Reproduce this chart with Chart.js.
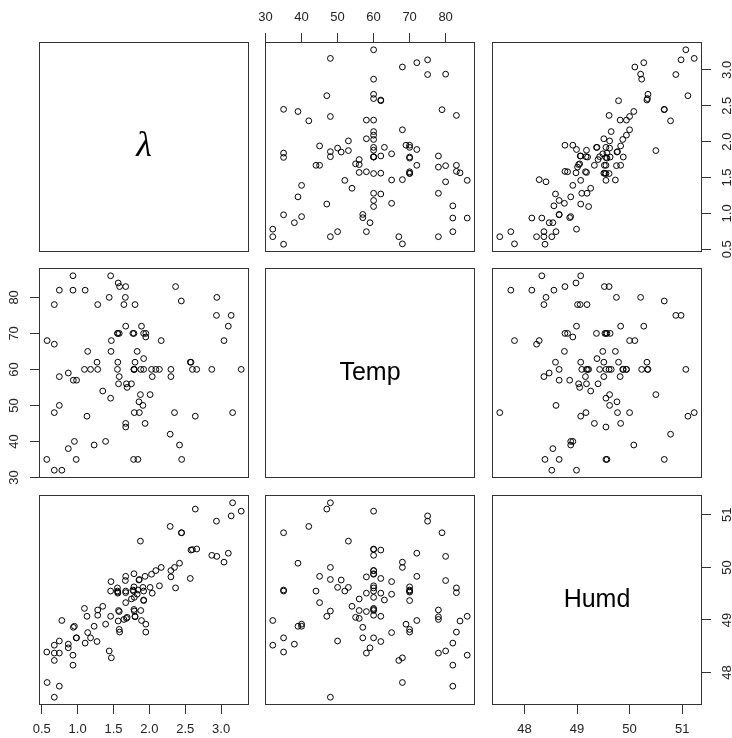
<!DOCTYPE html>
<html>
<head>
<meta charset="utf-8">
<script src="https://cdn.jsdelivr.net/npm/chart.js@4.4.0/dist/chart.umd.min.js"></script>
<style>
html, body { margin: 0; padding: 0; background: #fff; overflow: hidden; }
#wrap { position: relative; width: 732px; height: 738px; overflow: hidden; }
#wrap canvas { position: absolute; }
</style>
</head>
<body>
<div id="wrap"></div>
<script>
// variable names shown on the diagonal
const varNames = ['λ', 'Temp', 'Humd'];

// one entry per observation
const lambda = [3.16, 2.64, 2.45, 2.42, 2.29, 2.35, 2.30, 2.01, 2.04, 1.84, 1.78, 1.94, 1.86, 1.79, 1.91, 1.855, 1.875, 1.67, 1.67, 1.75,
  1.69, 1.68, 1.57, 1.58, 1.39, 1.23, 1.46, 1.35, 1.13, 0.98, 0.87, 0.955, 0.985, 0.94, 0.87, 0.78, 0.675, 0.57, 0.675, 0.745,
  0.745, 3.28, 3.04, 3.10, 3.14, 2.935, 2.94, 2.87, 2.66, 2.60, 2.58, 2.57, 2.445, 2.365, 2.30, 2.165, 2.14, 2.09, 2.03, 1.92,
  1.88, 1.785, 1.80, 1.92, 1.83, 1.95, 1.95, 1.89, 1.77, 1.80, 1.555, 1.56, 1.465, 1.47, 1.56, 1.555, 1.67, 1.645, 1.665, 1.67,
  1.585, 1.565, 1.46, 1.44, 1.28, 1.27, 1.18, 1.095, 1.14, 1.28, 1.105, 0.935, 0.935, 0.745, 0.675, 0.575, 0.675, 1.58, 1.785, 1.79,
  1.785, 1.92];
const temp = [48, 47, 35, 39, 42, 48, 58, 53, 58, 35, 35, 45, 48, 48, 50, 51, 53, 44, 45, 56,
  55, 56, 56, 58, 40, 39, 52, 54, 47, 35, 38, 40, 57, 57, 59, 32, 32, 35, 48, 50,
  58, 60, 68, 72, 75, 75, 80, 60, 60, 60, 62, 62, 79, 83, 60, 68, 60, 60, 60, 60,
  60, 60, 62, 63, 65, 69, 70, 72, 70, 78, 60, 62, 65, 68, 70, 70, 72, 78, 80, 83,
  83, 84, 86, 80, 60, 62, 60, 60, 65, 78, 82, 82, 86, 82, 67, 68, 78, 70, 70, 60,
  60, 70];
const humd = [51.23, 51.11, 50.66, 50.08, 50.78, 50.00, 49.82, 49.62, 49.51, 49.57, 49.55, 49.83, 49.77, 49.17, 49.62, 49.76, 50.50, 49.55, 49.33, 49.40,
  49.05, 49.03, 49.18, 49.16, 48.92, 48.88, 49.55, 49.26, 49.07, 48.66, 48.54, 48.88, 48.66, 48.86, 48.47, 48.99, 48.52, 48.39, 47.53, 48.60,
  48.37, 51.07, 50.10, 50.27, 50.98, 50.88, 50.21, 50.23, 50.35, 50.34, 50.33, 49.79, 50.66, 49.61, 49.94, 50.00, 49.65, 49.94, 49.87, 49.55,
  49.18, 49.20, 49.07, 49.38, 49.49, 48.92, 48.77, 48.99, 49.57, 49.06, 49.61, 49.51, 49.73, 48.28, 49.53, 49.55, 49.83, 49.01, 49.75, 49.52,
  48.77, 48.98, 49.07, 48.41, 49.09, 48.59, 48.66, 49.22, 48.76, 49.19, 48.56, 48.14, 48.33, 47.74, 48.23, 47.81, 48.37, 48.82, 49.63, 49.43,
  49.88, 49.37];

const lambdaTicks = [0.5, 1.0, 1.5, 2.0, 2.5, 3.0];
const tempTicks = [30, 40, 50, 60, 70, 80];
const humdTicks = [48, 49, 50, 51];

const vars = [lambda, temp, humd];
const tickSets = [lambdaTicks, tempTicks, humdTicks];
const fmt = [v => v.toFixed(1), v => String(v), v => String(v)];

const boxLeft = [39, 265, 492];
const boxTop = [42, 268, 495];
const BOX = 210;   // panel size
const M = 40;      // margin around each panel inside its canvas
const tickFont = { family: 'Liberation Sans, Arial, sans-serif', size: 13 };
const ink = '#222';

// R style range: data range stretched 4% each side
function range(arr) {
    const lo = Math.min(...arr), hi = Math.max(...arr), pad = (hi - lo) * 0.04;
    return [lo - pad, hi + pad];
}

function panelPlugin(i, j, yPos) {
    return {
        id: 'panel' + i + j,
        afterDraw(chart) {
            const ctx = chart.ctx, a = chart.chartArea;
            ctx.save();
            ctx.strokeStyle = '#333';
            ctx.lineWidth = 1;
            ctx.strokeRect(a.left + 0.5, a.top + 0.5, a.right - a.left - 1, a.bottom - a.top - 1);

            // rotated tick labels on vertical axes
            if (yPos) {
                const ys = chart.scales.y;
                ctx.fillStyle = ink;
                ctx.font = tickFont.size + 'px ' + tickFont.family;
                ctx.textAlign = 'center';
                ctx.textBaseline = 'middle';
                const x = yPos === 'right' ? a.right + 25 : a.left - 25;
                tickSets[i].forEach(v => {
                    ctx.save();
                    ctx.translate(x, ys.getPixelForValue(v));
                    ctx.rotate(-Math.PI / 2);
                    ctx.fillText(fmt[i](v), 0, 0);
                    ctx.restore();
                });
            }

            // variable name on the diagonal
            if (i === j) {
                ctx.fillStyle = '#000';
                ctx.textAlign = 'center';
                ctx.textBaseline = 'middle';
                ctx.font = i === 0 ? 'italic 36px "Liberation Serif", "Times New Roman", serif'
                                   : '25px "Liberation Sans", Arial, sans-serif';
                ctx.fillText(varNames[i], (a.left + a.right) / 2, (a.top + a.bottom) / 2);
            }
            ctx.restore();
        }
    };
}

const wrap = document.getElementById('wrap');

for (let i = 0; i < 3; i++) {
    for (let j = 0; j < 3; j++) {
        const cv = document.createElement('canvas');
        cv.width = BOX + 2 * M;
        cv.height = BOX + 2 * M;
        cv.style.left = (boxLeft[j] - M) + 'px';
        cv.style.top = (boxTop[i] - M) + 'px';
        wrap.appendChild(cv);

        let xPos = null, yPos = null;
        if (i === 0 && j % 2 === 1) xPos = 'top';
        if (i === 2 && j % 2 === 0) xPos = 'bottom';
        if (j === 0 && i % 2 === 1) yPos = 'left';
        if (j === 2 && i % 2 === 0) yPos = 'right';

        const points = i === j ? [] : vars[j].map((x, k) => ({ x: x, y: vars[i][k] }));
        const xr = range(vars[j]), yr = range(vars[i]);

        new Chart(cv, {
            type: 'scatter',
            data: {
                datasets: [{
                    data: points,
                    pointStyle: 'circle',
                    pointRadius: 2.9,
                    pointBorderWidth: 1,
                    pointBorderColor: '#000',
                    pointBackgroundColor: 'rgba(0,0,0,0)',
                    clip: false
                }]
            },
            options: {
                responsive: false,
                animation: false,
                layout: {
                    padding: {
                        top: xPos === 'top' ? 0 : M,
                        bottom: xPos === 'bottom' ? 0 : M,
                        left: yPos === 'left' ? 0 : M,
                        right: yPos === 'right' ? 0 : M
                    }
                },
                plugins: { legend: { display: false }, tooltip: { enabled: false } },
                scales: {
                    x: {
                        type: 'linear',
                        position: xPos || 'bottom',
                        display: !!xPos,
                        min: xr[0], max: xr[1],
                        afterBuildTicks: s => { s.ticks = tickSets[j].map(v => ({ value: v })); },
                        afterFit: s => { s.height = xPos ? M : 0; },
                        grid: { drawOnChartArea: false, drawTicks: true, tickLength: 9, color: '#333' },
                        border: { display: false },
                        ticks: {
                            autoSkip: false, maxRotation: 0, minRotation: 0, padding: 8,
                            color: ink, font: tickFont,
                            callback: v => fmt[j](v)
                        }
                    },
                    y: {
                        type: 'linear',
                        position: yPos || 'left',
                        display: !!yPos,
                        min: yr[0], max: yr[1],
                        afterBuildTicks: s => { s.ticks = tickSets[i].map(v => ({ value: v })); },
                        afterFit: s => { s.width = yPos ? M : 0; },
                        grid: { drawOnChartArea: false, drawTicks: true, tickLength: 9, color: '#333' },
                        border: { display: false },
                        ticks: { display: false }
                    }
                }
            },
            plugins: [panelPlugin(i, j, yPos)]
        });
    }
}
</script>
</body>
</html>
